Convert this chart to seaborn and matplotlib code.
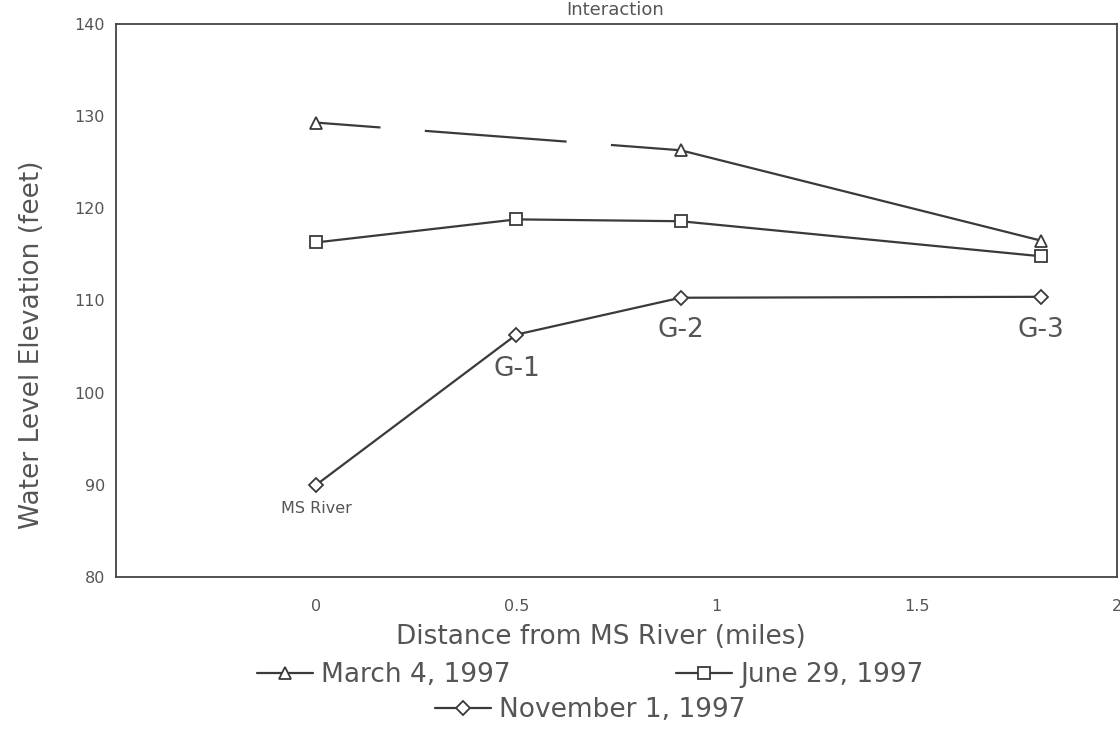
import pandas as pd
import matplotlib
matplotlib.use('Agg')
import matplotlib.pyplot as plt
import seaborn as sns

# Dati (distanza dal fiume in miglia, livello in piedi)
distanza = [0.0, 0.5, 0.91, 1.81]
marzo = [129.3, None, 126.3, 116.5]
giugno = [116.3, 118.8, 118.6, 114.8]
novembre = [90.0, 106.3, 110.3, 110.4]

etichette_pozzi = ['MS River', 'G-1', 'G-2', 'G-3']
pos_etichette_x = [0.0, 0.5, 0.91, 1.81]
pos_etichette_y = [87.4, 102.6, 106.8, 106.8]

sns.set_theme(style='white')
plt.rcParams['font.family'] = ['DejaVu Sans']

grigio = '#555555'
linea = '#3a3a3a'

fig = plt.figure(figsize=(11.2, 7.29), dpi=100)
ax = fig.add_axes([0.1036, 0.2085, 0.8937, 0.7586])

stile = dict(color=linea, linewidth=1.6, markersize=8, markerfacecolor='white',
             markeredgecolor=linea, markeredgewidth=1.3)

# Marzo: tratto tratteggiato tra il fiume e G-2 (manca G-1), poi linea continua
df_m = pd.DataFrame({'x': distanza, 'y': marzo}).dropna()
sns.lineplot(data=df_m.iloc[:2], x='x', y='y', ax=ax, color=linea, linewidth=1.6,
             linestyle=(35, (64, 20)))
sns.lineplot(data=df_m.iloc[1:], x='x', y='y', ax=ax, marker='^', label='March 4, 1997', **stile)
sns.lineplot(data=df_m.iloc[:1], x='x', y='y', ax=ax, marker='^', **stile)

df_g = pd.DataFrame({'x': distanza, 'y': giugno})
sns.lineplot(data=df_g, x='x', y='y', ax=ax, marker='s', label='June 29, 1997', **stile)

df_n = pd.DataFrame({'x': distanza, 'y': novembre})
sns.lineplot(data=df_n, x='x', y='y', ax=ax, marker='D', label='November 1, 1997',
             **{**stile, 'markersize': 7})

# Etichette dei pozzi
for testo, xx, yy in zip(etichette_pozzi, pos_etichette_x, pos_etichette_y):
    ax.text(xx, yy, testo, ha='center', va='center', color=grigio,
            fontsize=11.5 if testo == 'MS River' else 19)

ax.set_xlim(-0.5, 2)
ax.set_ylim(80, 140)
ax.set_xticks([0, 0.5, 1, 1.5, 2])
ax.set_xticklabels(['0', '0.5', '1', '1.5', '2'])
ax.set_yticks([80, 90, 100, 110, 120, 130, 140])

for s in ax.spines.values():
    s.set_color('#444444')
    s.set_linewidth(1.3)

ax.tick_params(axis='both', direction='in', length=8, width=1.1, color='#444444',
               labelcolor=grigio, labelsize=11.5)
ax.tick_params(axis='x', pad=16)
ax.tick_params(axis='y', pad=8)

ax.set_xlabel('Distance from MS River (miles)', fontsize=19, color=grigio)
ax.set_ylabel('Water Level Elevation (feet)', fontsize=19, color=grigio)
ax.xaxis.set_label_coords(0.484, -0.085)
ax.yaxis.set_label_coords(-0.071, 0.42)

# Titolo in alto (nell'originale e' quasi tagliato)
fig.text(0.549, 0.999, 'Interaction', ha='center', va='top', fontsize=13, color=grigio)

# Legenda su due righe, la terza voce centrata
h, l = ax.get_legend_handles_labels()
if ax.legend_:
    ax.legend_.remove()
leg1 = fig.legend(h[:2], l[:2], ncol=2, loc='center', bbox_to_anchor=(0.527, 0.074),
                  frameon=False, fontsize=19, handlelength=2.1, handletextpad=0.3,
                  columnspacing=6.3, labelcolor=grigio)
leg2 = fig.legend(h[2:], l[2:], loc='center', bbox_to_anchor=(0.527, 0.026),
                  frameon=False, fontsize=19, handlelength=2.1, handletextpad=0.3,
                  labelcolor=grigio)

fig.savefig('out.png', dpi=100)
